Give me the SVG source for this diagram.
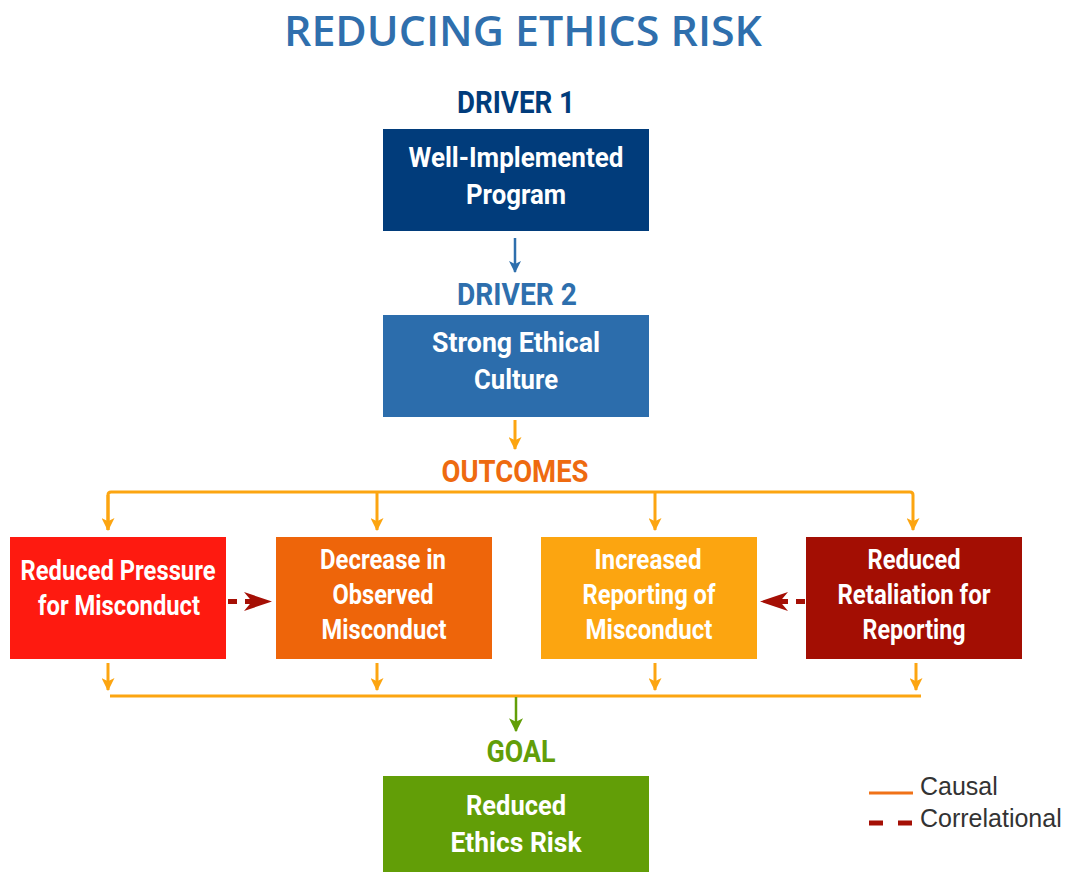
<svg xmlns="http://www.w3.org/2000/svg" width="1068" height="872" viewBox="0 0 1068 872">
<style>
.hd{font-family:Roboto,"Liberation Sans",sans-serif;font-weight:700;text-anchor:middle}
.bt{font-family:Roboto,"Liberation Sans",sans-serif;font-weight:700;font-size:28px;fill:#fff;text-anchor:middle}
.or{stroke:#fca511;stroke-width:3;fill:none}
.lg{font-family:"Liberation Sans",Arial,sans-serif;font-size:25px;fill:#333}
</style>
<defs>
<marker id="ao" viewBox="0 0 12 12" refX="11" refY="6" markerWidth="13" markerHeight="13" markerUnits="userSpaceOnUse" orient="auto">
<path d="M0,0 L12,6 L0,12 L3,6 z" fill="#fca511"/>
</marker>
<marker id="ab" viewBox="0 0 12 12" refX="11" refY="6" markerWidth="12" markerHeight="12" markerUnits="userSpaceOnUse" orient="auto">
<path d="M0,0 L12,6 L0,12 L3,6 z" fill="#2e6fad"/>
</marker>
<marker id="ag" viewBox="0 0 12 12" refX="11" refY="6" markerWidth="14" markerHeight="14" markerUnits="userSpaceOnUse" orient="auto">
<path d="M0,0 L12,6 L0,12 L3,6 z" fill="#629e08"/>
</marker>
</defs>
<rect width="1068" height="872" fill="#fff"/>
<text x="523" y="46" font-family="'Open Sans',Lato,sans-serif" font-size="42" font-weight="600" fill="#2f6fad" text-anchor="middle" textLength="478" lengthAdjust="spacingAndGlyphs">REDUCING ETHICS RISK</text>

<g id="driver1">
<text class="hd" x="516" y="113" font-size="31" fill="#013c7b" textLength="118" lengthAdjust="spacingAndGlyphs">DRIVER 1</text>
<rect x="383" y="129" width="266" height="102" fill="#013c7b"/>
<text class="bt" x="516" y="167" textLength="215" lengthAdjust="spacingAndGlyphs">Well-Implemented</text>
<text class="bt" x="516" y="204" textLength="100" lengthAdjust="spacingAndGlyphs">Program</text>
</g>

<g id="driver2">
<text class="hd" x="517" y="305" font-size="31" fill="#2e6fad" textLength="120" lengthAdjust="spacingAndGlyphs">DRIVER 2</text>
<rect x="383" y="315" width="266" height="102" fill="#2c6dac"/>
<text class="bt" x="516" y="352" textLength="168" lengthAdjust="spacingAndGlyphs">Strong Ethical</text>
<text class="bt" x="516" y="389" textLength="84" lengthAdjust="spacingAndGlyphs">Culture</text>
</g>

<g id="outcomes-label">
<text class="hd" x="515" y="482" font-size="31" fill="#ee6a10" textLength="147" lengthAdjust="spacingAndGlyphs">OUTCOMES</text>
</g>

<g id="pressure">
<rect x="10" y="537" width="216" height="122" fill="#fe1a10"/>
<text class="bt" x="118" y="580" textLength="195" lengthAdjust="spacingAndGlyphs">Reduced Pressure</text>
<text class="bt" x="119" y="615" textLength="162" lengthAdjust="spacingAndGlyphs">for Misconduct</text>
</g>

<g id="observed">
<rect x="276" y="537" width="216" height="122" fill="#ee650a"/>
<text class="bt" x="383" y="569" textLength="126" lengthAdjust="spacingAndGlyphs">Decrease in</text>
<text class="bt" x="383" y="604" textLength="101" lengthAdjust="spacingAndGlyphs">Observed</text>
<text class="bt" x="384" y="639" textLength="125" lengthAdjust="spacingAndGlyphs">Misconduct</text>
</g>

<g id="reporting">
<rect x="541" y="537" width="216" height="122" fill="#fca510"/>
<text class="bt" x="648" y="569" textLength="107" lengthAdjust="spacingAndGlyphs">Increased</text>
<text class="bt" x="649" y="604" textLength="133" lengthAdjust="spacingAndGlyphs">Reporting of</text>
<text class="bt" x="649" y="639" textLength="127" lengthAdjust="spacingAndGlyphs">Misconduct</text>
</g>

<g id="retaliation">
<rect x="806" y="537" width="216" height="122" fill="#a30e03"/>
<text class="bt" x="914" y="569" textLength="93" lengthAdjust="spacingAndGlyphs">Reduced</text>
<text class="bt" x="914" y="604" textLength="153" lengthAdjust="spacingAndGlyphs">Retaliation for</text>
<text class="bt" x="914" y="639" textLength="103" lengthAdjust="spacingAndGlyphs">Reporting</text>
</g>

<g id="goal">
<text class="hd" x="521" y="762" font-size="31" fill="#629e08" textLength="69" lengthAdjust="spacingAndGlyphs">GOAL</text>
<rect x="383" y="776" width="266" height="96" fill="#629e07"/>
<text class="bt" x="516" y="815" textLength="100" lengthAdjust="spacingAndGlyphs">Reduced</text>
<text class="bt" x="516" y="852" textLength="131" lengthAdjust="spacingAndGlyphs">Ethics Risk</text>
</g>

<g id="connectors">
<line x1="515" y1="238" x2="515" y2="272" stroke="#2e6fad" stroke-width="2.5" marker-end="url(#ab)"/>
<line x1="515" y1="420" x2="515" y2="449" class="or" marker-end="url(#ao)"/>
<path class="or" d="M108,530 V495 Q108,492 111,492 H910 Q913,492 913,495 V530" marker-end="url(#ao)"/>
<line class="or" x1="108" y1="495" x2="108" y2="530" marker-end="url(#ao)"/>
<line class="or" x1="377" y1="492" x2="377" y2="530" marker-end="url(#ao)"/>
<line class="or" x1="655" y1="492" x2="655" y2="530" marker-end="url(#ao)"/>
<line class="or" x1="108" y1="663" x2="108" y2="690" marker-end="url(#ao)"/>
<line class="or" x1="377" y1="663" x2="377" y2="690" marker-end="url(#ao)"/>
<line class="or" x1="655" y1="663" x2="655" y2="690" marker-end="url(#ao)"/>
<line class="or" x1="916" y1="663" x2="916" y2="690" marker-end="url(#ao)"/>
<line class="or" x1="110" y1="696" x2="921" y2="696"/>
<line x1="516" y1="697" x2="516" y2="731" stroke="#629e08" stroke-width="2.5" marker-end="url(#ag)"/>
<g fill="#a50f05">
<rect x="228" y="599" width="9" height="5"/>
<rect x="245" y="599" width="14" height="5"/>
<path d="M244,592 L272,601.5 L244,611 L252,601.5 z"/>
<rect x="796" y="599" width="9" height="5"/>
<rect x="774" y="599" width="14" height="5"/>
<path d="M788,592 L760,601.5 L788,611 L780,601.5 z"/>
</g>
</g>

<g id="legend">
<line x1="869" y1="793" x2="913" y2="793" stroke="#f07218" stroke-width="3"/>
<text class="lg" x="920" y="795">Causal</text>
<line x1="869" y1="823" x2="913" y2="823" stroke="#a50f05" stroke-width="5" stroke-dasharray="14,15"/>
<text class="lg" x="920" y="827">Correlational</text>
</g>
</svg>
